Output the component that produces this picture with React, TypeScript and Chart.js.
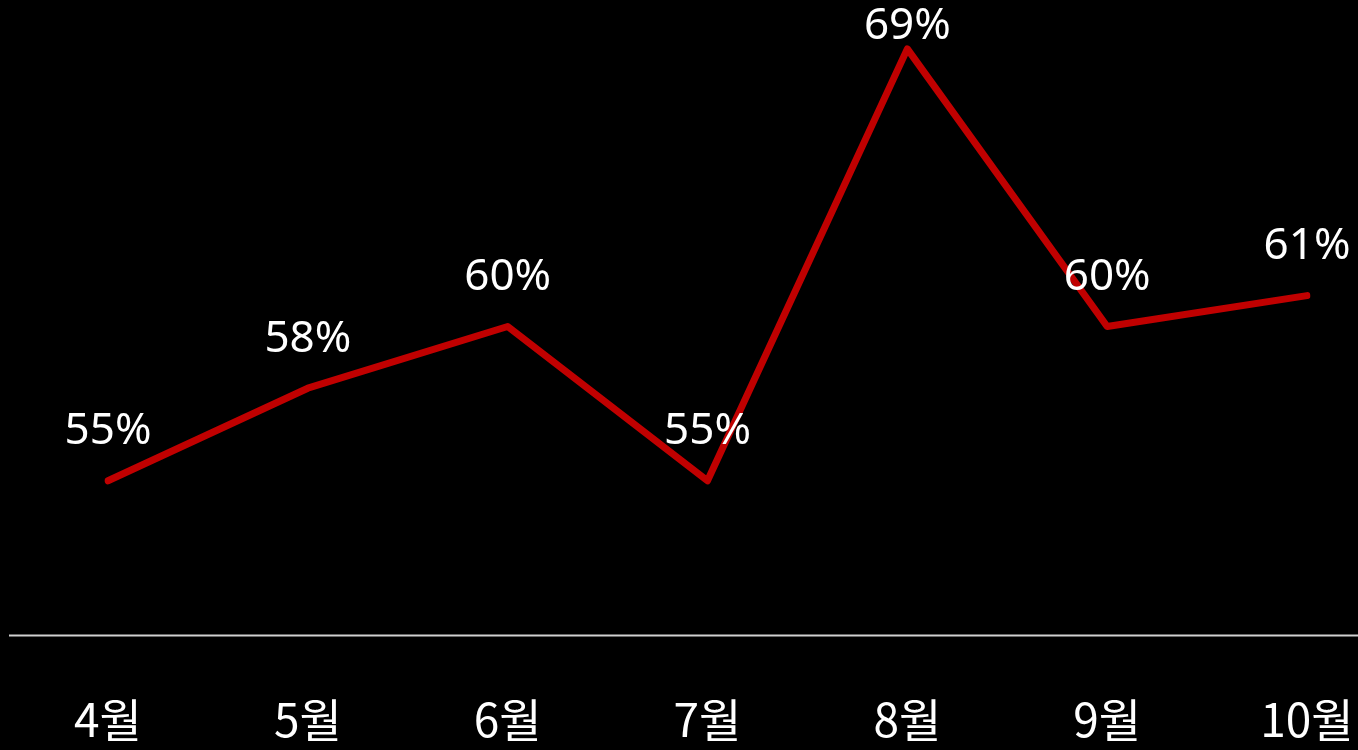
import React, { useEffect, useRef } from "react";
import { Chart, registerables } from "chart.js";

Chart.register(...registerables);

const months = ["4월", "5월", "6월", "7월", "8월", "9월", "10월"];
const rates = [55, 58, 60, 55, 69, 60, 61];
const yMin = 50;
const yMax = 70;

const W = 1358;
const H = 750;

const dataLabelPlugin = {
  id: "dataLabels",
  afterDatasetsDraw(chart: any) {
    const ctx = chart.ctx;
    const meta = chart.getDatasetMeta(0);
    ctx.save();
    ctx.font = "44px 'Noto Sans', 'Noto Sans CJK KR', sans-serif";
    ctx.fillStyle = "#ffffff";
    ctx.textAlign = "center";
    ctx.textBaseline = "middle";
    meta.data.forEach((pt: any, i: number) => {
      const y = Math.max(pt.y - 49, 26);
      ctx.fillText(`${rates[i]}%`, pt.x, y);
    });
    ctx.restore();
  },
};

const baselinePlugin = {
  id: "baseline",
  beforeDatasetsDraw(chart: any) {
    const ctx = chart.ctx;
    const y = Math.round(chart.scales.y.getPixelForValue(yMin)) + 0.5;
    ctx.save();
    ctx.strokeStyle = "#d0d0d0";
    ctx.lineWidth = 2;
    ctx.beginPath();
    ctx.moveTo(9, y);
    ctx.lineTo(chart.width, y);
    ctx.stroke();
    ctx.restore();
  },
};

export default function App() {
  const ref = useRef<HTMLCanvasElement>(null);

  useEffect(() => {
    document.body.style.margin = "0";
    document.body.style.background = "#000000";
    document.body.style.overflow = "hidden";
    if (!ref.current) return;
    const chart = new Chart(ref.current, {
      type: "line",
      data: {
        labels: months,
        datasets: [
          {
            data: rates,
            borderColor: "#C00000",
            borderWidth: 7,
            borderCapStyle: "round",
            borderJoinStyle: "round",
            pointRadius: 0,
            pointHoverRadius: 0,
            fill: false,
            tension: 0,
          },
        ],
      },
      options: {
        animation: false,
        responsive: false,
        events: [],
        layout: { padding: { left: 108, right: 51, top: 18, bottom: 0 } },
        plugins: {
          legend: { display: false },
          tooltip: { enabled: false },
        },
        scales: {
          x: {
            type: "category",
            offset: false,
            grid: { display: false, drawTicks: false },
            border: { display: false },
            ticks: {
              color: "#ffffff",
              padding: 57,
              autoSkip: false,
              maxRotation: 0,
              font: { family: "'Noto Sans CJK KR', 'Noto Sans', sans-serif", size: 46, lineHeight: 1.2 },
            },
            afterFit(scale: any) {
              scale.height = 115;
              scale.paddingLeft = 0;
              scale.paddingRight = 0;
            },
          },
          y: {
            display: false,
            min: yMin,
            max: yMax,
          },
        },
      },
      plugins: [baselinePlugin, dataLabelPlugin],
    });
    return () => chart.destroy();
  }, []);

  return (
    <div style={{ width: W, height: H, overflow: "hidden", background: "#000" }}>
      <canvas ref={ref} width={W} height={H} style={{ width: W, height: H, display: "block" }} />
    </div>
  );
}
